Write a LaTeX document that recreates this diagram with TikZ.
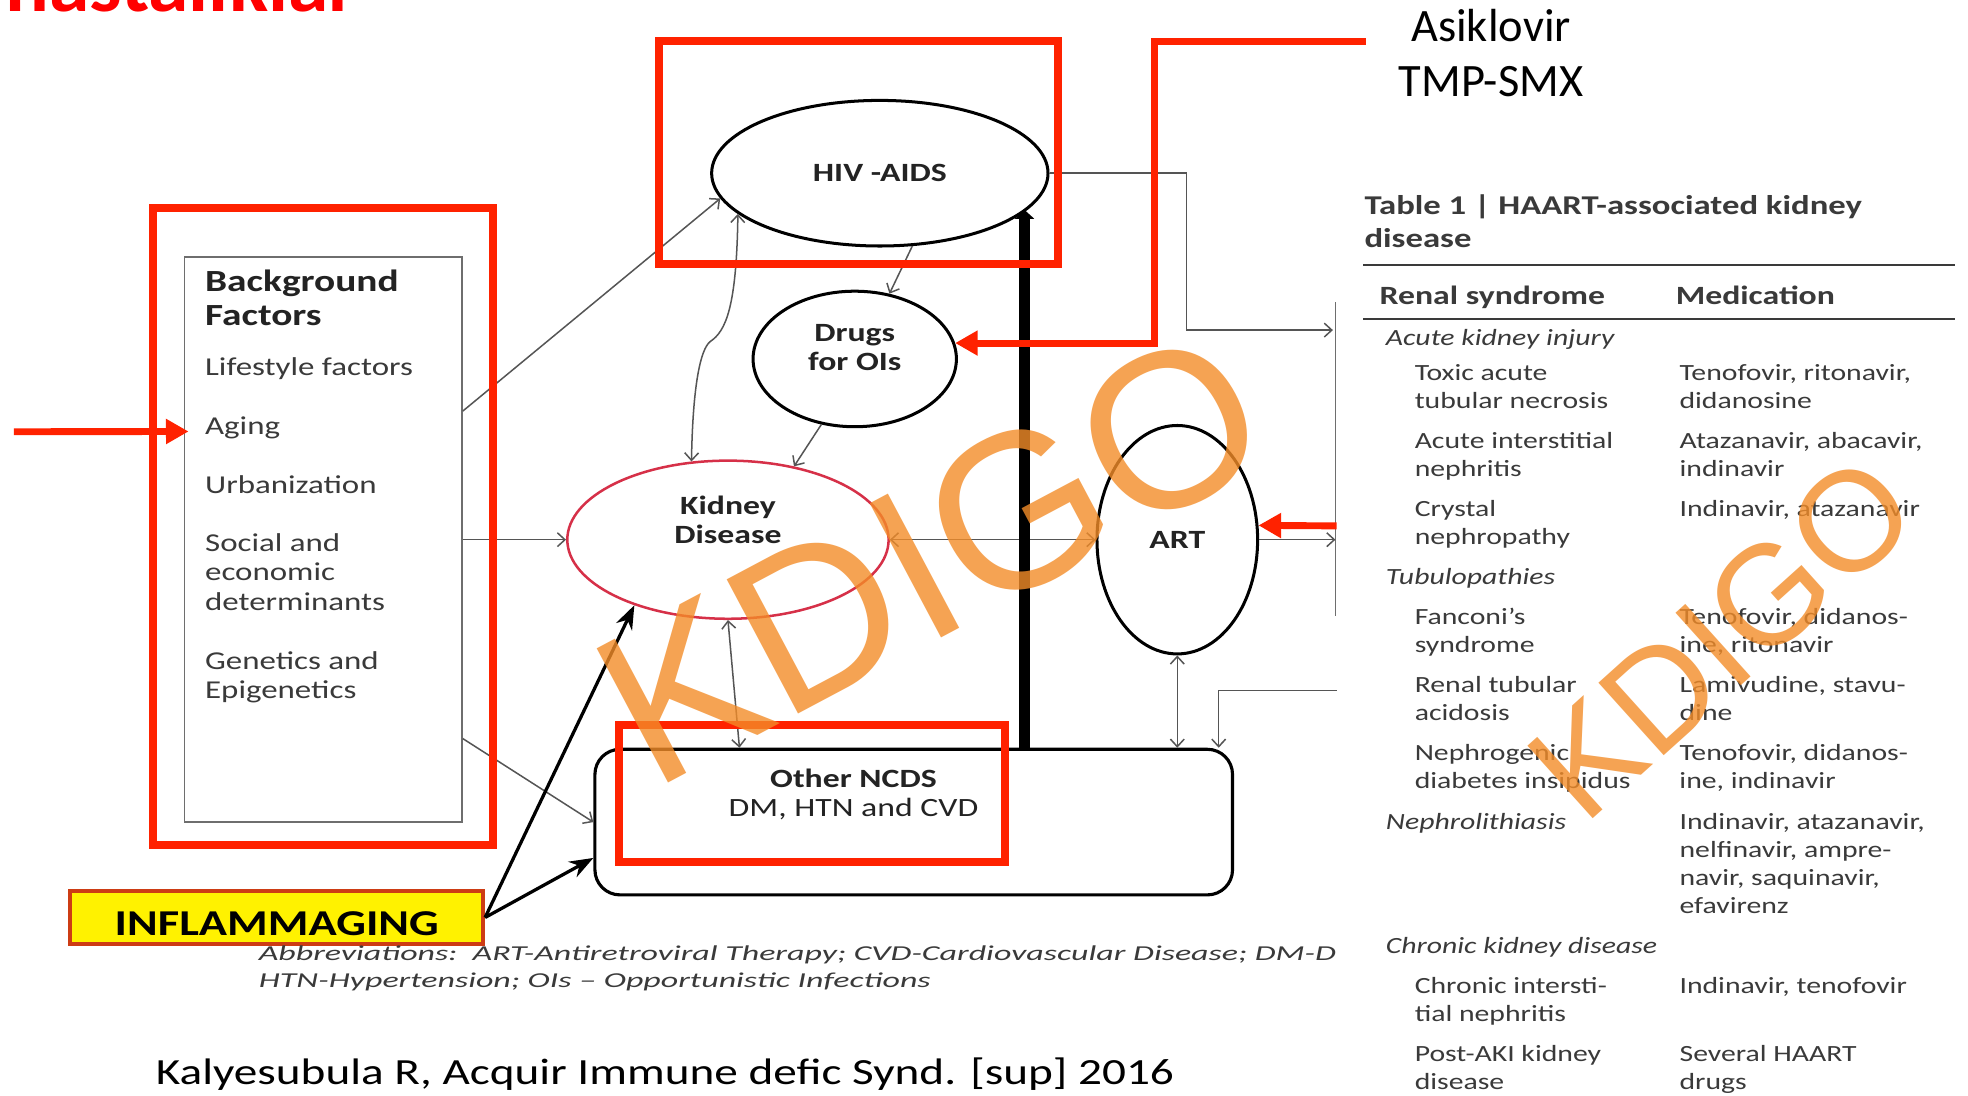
\documentclass[tikz,border=0pt]{standalone}
\usepackage{fontspec}
\usepackage{array}
\newfontfamily\figfont[FakeStretch=1.28]{Carlito}
\newfontfamily\abbrfont[FakeStretch=1.6]{Carlito}
\newfontfamily\slidefont{Carlito}
\newfontfamily\wmfont{Liberation Sans}
\usetikzlibrary{positioning}
\usetikzlibrary{arrows.meta}
\usetikzlibrary{calc}
\usetikzlibrary{shapes.geometric}
\definecolor{annored}{RGB}{255,34,0}
\definecolor{titlered}{RGB}{255,0,0}
\definecolor{conngray}{RGB}{85,85,85}
\definecolor{boxgray}{RGB}{110,110,110}
\definecolor{textgray}{RGB}{58,58,58}
\definecolor{labelgray}{RGB}{35,35,35}
\definecolor{kidneyred}{RGB}{214,48,72}
\definecolor{inflamborder}{RGB}{205,60,20}
\definecolor{wmorange}{RGB}{243,140,40}
\tikzstyle{oval} = [draw, ellipse, line width=2.4pt, inner sep=0pt]
\tikzstyle{bgbox} = [draw=boxgray, rectangle, line width=1.5pt]
\tikzstyle{ncdsbox} = [draw, rectangle, rounded corners=20pt, line width=2.5pt]
\tikzstyle{lbl} = [inner sep=0pt, text=labelgray, font=\figfont\bfseries\fontsize{21}{23}\selectfont]
\tikzstyle{item} = [inner sep=0pt, text=textgray, font=\figfont\fontsize{20.5}{23.5}\selectfont]
\tikzstyle{conn} = [draw=conngray, line width=1.2pt]
\tikzstyle{garrow} = [conn, -{Straight Barb[length=6pt,width=11pt]}]
\tikzstyle{gboth} = [conn, {Straight Barb[length=6pt,width=11pt]}-{Straight Barb[length=6pt,width=11pt]}]
\tikzstyle{redframe} = [draw=annored, line width=6.4pt]
\tikzstyle{redarrow} = [draw=annored, line width=5.5pt, -{Triangle[length=18pt,width=19pt]}]
\tikzstyle{blackarrow} = [line width=2.6pt, -{Stealth[length=19pt,width=14pt]}]
\tikzstyle{tabtxt} = [inner sep=0pt, text=textgray, font=\figfont\fontsize{18.5}{22.4}\selectfont]
\tikzstyle{watermark} = [inner sep=0pt, text=wmorange, opacity=0.8]
\newcommand{\subrow}{\hspace*{28pt}}
\newcommand{\grouprow}[1]{\hspace*{5pt}\textit{#1}}
\begin{document}
\begin{tikzpicture}[x=1pt, y=-1pt]
\useasboundingbox (0,0) rectangle (1568,873);
\fill[white] (0,0) rectangle (1568,873);

% slide title, cut by the top edge
\node[anchor=base west, inner sep=0pt, text=titlered, font=\slidefont\bfseries\fontsize{65}{70}\selectfont] (baslik) at (4,9.5) {hastalıklar};

% background factors
\node[bgbox, minimum width=221pt, minimum height=450pt] (bg) at (257.5,430) {};
\node[anchor=base west, inner sep=0pt, text=labelgray, font=\figfont\bfseries\fontsize{24.5}{27}\selectfont] (bgtitle) at ($(bg.north west)+(17,28)$)
{\begin{tabular}[t]{@{}l@{}}Background\\Factors\end{tabular}};
\node[item, anchor=base west] (bgitems) at ($(bg.north west)+(17,95)$)
{\begin{tabular}[t]{@{}l@{}}Lifestyle factors\\[23.5pt]Aging\\[23.5pt]Urbanization\\[22.5pt]Social and\\economic\\determinants\\[23.5pt]Genetics and\\Epigenetics\end{tabular}};

% nodes of the diagram
\node[oval, lbl, minimum width=268pt, minimum height=116pt] (hiv) at (701,138) {HIV -AIDS};
\node[oval, minimum width=162pt, minimum height=108pt] (drugs) at (681,286) {};
\node[lbl, anchor=base] (drugslbl) at ([yshift=14pt]drugs.center) {\begin{tabular}[t]{c}Drugs\\for OIs\end{tabular}};
\node[oval, draw=kidneyred, line width=2pt, minimum width=256pt, minimum height=126pt] (kidney) at (580,430) {};
\node[lbl, anchor=base] (kidneylbl) at ([yshift=20pt]kidney.center) {\begin{tabular}[t]{c}Kidney\\Disease\end{tabular}};
\node[oval, lbl, minimum width=128pt, minimum height=182pt] (art) at (938,430) {ART};
\node[ncdsbox, minimum width=508pt, minimum height=116pt] (ncds) at (728,655) {};
\node[lbl, anchor=base] (ncdslbl) at ($(ncds.north)+(-48,32)$) {\begin{tabular}[t]{c}Other NCDS\\\mdseries DM, HTN and CVD\end{tabular}};
\node[draw=inflamborder, fill=yellow, line width=3pt, minimum width=329pt, minimum height=42pt, inner sep=0pt, text height=28pt, text depth=0pt, font=\figfont\bfseries\fontsize{29}{30}\selectfont] (inflam) at (220.5,731) {INFLAMMAGING};

% texts below
\node[anchor=base west, inner sep=0pt, text=textgray, font=\abbrfont\itshape\fontsize{16.9}{22}\selectfont] (abbr) at (206,765)
{\begin{tabular}[t]{@{}l@{}}Abbreviations:\ \ ART-Antiretroviral Therapy; CVD-Cardiovascular Disease; DM-D\\HTN-Hypertension; OIs – Opportunistic Infections\end{tabular}};
\node[anchor=base west, inner sep=0pt, font=\figfont\fontsize{29.4}{32}\selectfont] (quelle) at (124,864) {Kalyesubula R, Acquir Immune defic Synd. [sup] 2016};
\node[anchor=base, inner sep=0pt, font=\slidefont\fontsize{37}{44}\selectfont] (asiklovir) at (1188,33) {\begin{tabular}[t]{c}Asiklovir\\TMP-SMX\end{tabular}};

% table on the right
\node[anchor=base west, inner sep=0pt, text=textgray, font=\figfont\bfseries\fontsize{21.6}{26}\selectfont] (tabtitle) at (1087,171)
{\begin{tabular}[t]{@{}l@{}}Table 1 | HAART-associated kidney\\disease\end{tabular}};
\draw[line width=1.8pt, draw=textgray] (1086,211) -- (1558,211);
\draw[line width=1.8pt, draw=textgray] (1086,254) -- (1558,254);
\node[tabtxt, anchor=base west] (haart) at (1099,243) {%
\begin{tabular}[t]{@{}p{236pt}@{}l@{}}
\bfseries\fontsize{21}{22.4}\selectfont Renal syndrome & \bfseries\fontsize{21}{22.4}\selectfont Medication\\[9.5pt]
\grouprow{Acute kidney injury} & \\[5.5pt]
\subrow Toxic acute & \hspace*{3pt}Tenofovir, ritonavir,\\
\subrow tubular necrosis & \hspace*{3pt}didanosine\\[9.5pt]
\subrow Acute interstitial & \hspace*{3pt}Atazanavir, abacavir,\\
\subrow nephritis & \hspace*{3pt}indinavir\\[9.5pt]
\subrow Crystal & \hspace*{3pt}Indinavir, atazanavir\\
\subrow nephropathy & \\[9.5pt]
\grouprow{Tubulopathies} & \\[9.5pt]
\subrow Fanconi’s & \hspace*{3pt}Tenofovir, didanos-\\
\subrow syndrome & \hspace*{3pt}ine, ritonavir\\[9.5pt]
\subrow Renal tubular & \hspace*{3pt}Lamivudine, stavu-\\
\subrow acidosis & \hspace*{3pt}dine\\[9.5pt]
\subrow Nephrogenic & \hspace*{3pt}Tenofovir, didanos-\\
\subrow diabetes insipidus & \hspace*{3pt}ine, indinavir\\[9.5pt]
\grouprow{Nephrolithiasis} & \hspace*{3pt}Indinavir, atazanavir,\\
 & \hspace*{3pt}nelfinavir, ampre-\\
 & \hspace*{3pt}navir, saquinavir,\\
 & \hspace*{3pt}efavirenz\\[9.5pt]
\grouprow{Chronic kidney disease} & \\[9.5pt]
\subrow Chronic intersti- & \hspace*{3pt}Indinavir, tenofovir\\
\subrow tial nephritis & \\[9.5pt]
\subrow Post-AKI kidney & \hspace*{3pt}Several HAART\\
\subrow disease & \hspace*{3pt}drugs
\end{tabular}};
\coordinate (tl1) at (1064,241);
\coordinate (tl2) at (1064,491);
\draw[conn, draw=boxgray] (tl1) -- (tl2);

% connectors
\draw[garrow] ($(bg.north east)!0.273!(bg.south east)$) -- (hiv.189);
\draw[garrow] (bg.east) -- (kidney.west);
\draw[garrow] ($(bg.north east)!0.851!(bg.south east)$) -- (ncds.west);
\draw[garrow] (hiv.294) -- (drugs.62);
\draw[garrow] (drugs.243) -- (kidney.48);
\coordinate (knick) at (566,272);
\draw[gboth] (hiv.196) .. controls +(-1,75) and +(12,-8) .. (knick) .. controls +(-8,6) and +(1,-60) .. (kidney.115);
\draw[gboth] (kidney.east) -- (art.west);
\draw[gboth] (kidney.south) -- ($(ncds.north west)!0.228!(ncds.north east)$);
\draw[gboth] (art.south) -- (art.south |- ncds.north);
\coordinate (fuss) at ($(ncds.north west)!0.673!(ncds.north east)$);
\draw[line width=9pt, -{Triangle[length=7pt,width=15pt]}] (fuss) -- (fuss |- hiv.346);
\coordinate (tabhiv) at (1062,263);
\draw[garrow] (hiv.east) -- ++(109,0) |- (tabhiv);
\draw[garrow] (art.east) -- (art.east -| tl1);
\coordinate (tabncds) at (1065,550);
\draw[garrow] (tabncds) -| ($(ncds.north west)!0.976!(ncds.north east)$);
\draw[blackarrow] (inflam.east) -- (kidney.215);
\draw[blackarrow] (inflam.east) -- ($(ncds.north west)!0.741!(ncds.south west)$);

% red marks
\draw[redframe] (122,166) rectangle (393,673);
\draw[redframe] (525,33) rectangle (843,210);
\draw[redframe] (493,578) rectangle (801,687);
\coordinate (rotstart) at (11,344);
\draw[redarrow] (rotstart) -- ($(bg.north west)!0.309!(bg.south west)+(4,0)$);
\coordinate (rotoben) at (1088,33);
\draw[redarrow] (rotoben) -- ++(-168,0) |- (drugs.9);
\coordinate (rotart) at (1065,419);
\draw[redarrow] (rotart) -- (art.10);

% watermarks
\node[watermark, rotate=28, font=\wmfont\fontsize{176}{176}\selectfont] (kdigo1) at (742,444) {KDIGO};
\node[watermark, rotate=42, font=\wmfont\fontsize{113}{113}\selectfont] (kdigo2) at (1372,508) {KDIGO};
\end{tikzpicture}
\end{document}
